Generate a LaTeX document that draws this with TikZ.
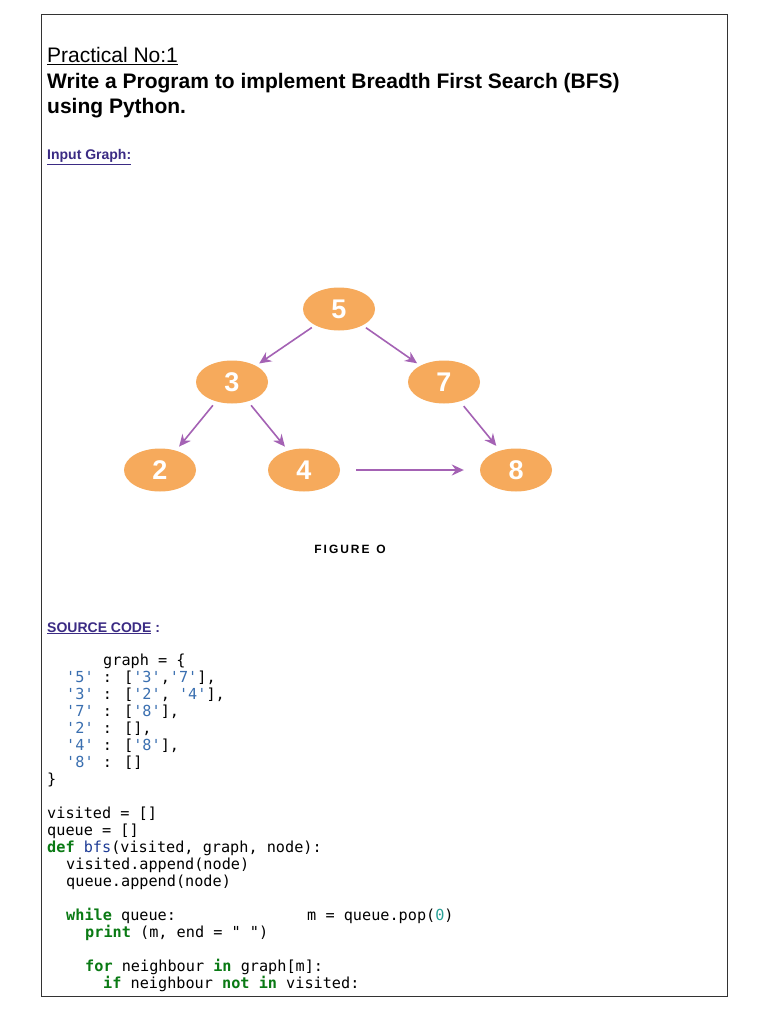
\documentclass[tikz,border=0pt]{standalone}
\usepackage{fontspec}
\setmainfont{Liberation Sans}
\newfontfamily\code{DejaVu Sans Mono}
\usetikzlibrary{shapes.geometric,arrows.meta}
\definecolor{nodeor}{HTML}{F6AA5C}
\definecolor{arr}{HTML}{A462B4}
\definecolor{hdr}{HTML}{3B2B84}
\definecolor{kw}{HTML}{0A7A14}
\definecolor{st}{HTML}{3A6FB0}
\definecolor{fn}{HTML}{1E3C96}
\definecolor{nm}{HTML}{2AA198}
\begin{document}
\begin{tikzpicture}[x=1pt,y=-1pt,
  gn/.style={ellipse,fill=nodeor,minimum width=72pt,minimum height=43pt,inner sep=0pt,text=white,font=\fontsize{27}{27}\selectfont\bfseries},
  ar/.style={draw=arr,line width=1.6pt,-{Stealth[length=12pt,width=11pt,inset=4pt]},shorten <=#1,shorten >=#1},
  ar/.default=6pt,
  cl/.style={anchor=base west,inner sep=0pt,font=\code\fontsize{15.2}{15.2}\selectfont}]
\useasboundingbox (0,0) rectangle (768,1024);
\fill[white] (0,0) rectangle (768,1024);
\draw[line width=1pt,black!80] (41,15) rectangle (727,996);
\node[anchor=base west,inner sep=0pt,font=\fontsize{21}{21}\selectfont] (t1) at (47,63) {\underline{Practical No:1}};
\node[anchor=base west,inner sep=0pt,font=\fontsize{21}{21}\selectfont\bfseries] (t2) at (47,89) {Write a Program to implement Breadth First Search (BFS)};
\node[anchor=base west,inner sep=0pt,font=\fontsize{21}{21}\selectfont\bfseries] (t3) at (47,114) {using Python.};
\node[anchor=base west,inner sep=0pt,font=\fontsize{14}{14}\selectfont\bfseries,text=hdr] (ig) at (47,160) {\underline{Input Graph:}};
\node[gn] (n5) at (339,309) {5};
\node[gn] (n3) at (232,382) {3};
\node[gn] (n7) at (444,382) {7};
\node[gn] (n2) at (160,470) {2};
\node[gn] (n4) at (304,470) {4};
\node[gn] (n8) at (516,470) {8};
\draw[ar=4pt] (n5) -- (n3);
\draw[ar=4pt] (n5) -- (n7);
\draw[ar=5pt] (n3) -- (n2);
\draw[ar=5pt] (n3) -- (n4);
\draw[ar=6pt] (n7) -- (n8);
\draw[ar=16pt] (n4) -- (n8);
\node[inner sep=0pt,font=\fontsize{12}{12}\selectfont\bfseries] (fig) at (350,549) {F\,I\,G\,U\,R\,E\ \ O};
\node[anchor=base west,inner sep=0pt,font=\fontsize{14}{14}\selectfont\bfseries,text=hdr] (sc) at (47,632) {\underline{SOURCE CODE} :};
\node[cl] (c1) at (103,665) {graph = \{};
\node[cl] (c2) at (66,682) {\textcolor{st}{'5'} : [\textcolor{st}{'3'},\textcolor{st}{'7'}],};
\node[cl] (c3) at (66,699) {\textcolor{st}{'3'} : [\textcolor{st}{'2'}, \textcolor{st}{'4'}],};
\node[cl] (c4) at (66,716) {\textcolor{st}{'7'} : [\textcolor{st}{'8'}],};
\node[cl] (c5) at (66,733) {\textcolor{st}{'2'} : [],};
\node[cl] (c6) at (66,750) {\textcolor{st}{'4'} : [\textcolor{st}{'8'}],};
\node[cl] (c7) at (66,767) {\textcolor{st}{'8'} : []};
\node[cl] (c8) at (47,784) {\}};
\node[cl] (c9) at (47,818) {visited = []};
\node[cl] (c10) at (47,835) {queue = []};
\node[cl] (c11) at (47,852) {\textcolor{kw}{\bfseries def} \textcolor{fn}{bfs}(visited, graph, node):};
\node[cl] (c12) at (66,869) {visited.append(node)};
\node[cl] (c13) at (66,886) {queue.append(node)};
\node[cl] (c14) at (66,920) {\textcolor{kw}{\bfseries while} queue:};
\node[cl] (c14b) at (307,920) {m = queue.pop(\textcolor{nm}{0})};
\node[cl] (c15) at (85,937) {\textcolor{kw}{\bfseries print} (m, end = " ")};
\node[cl] (c16) at (85,971) {\textcolor{kw}{\bfseries for} neighbour \textcolor{kw}{\bfseries in} graph[m]:};
\node[cl] (c17) at (103,988) {\textcolor{kw}{\bfseries if} neighbour \textcolor{kw}{\bfseries not in} visited:};
\end{tikzpicture}
\end{document}
